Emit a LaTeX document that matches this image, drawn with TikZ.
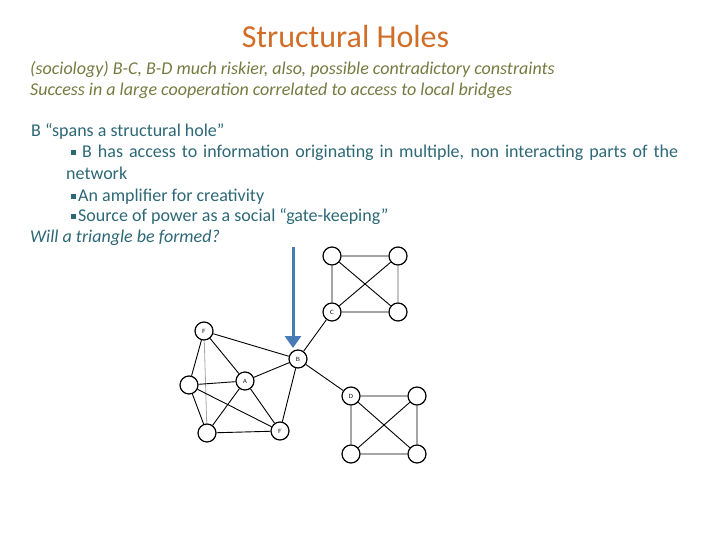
\documentclass[tikz,border=0pt]{standalone}
\usepackage{fontspec}
\setmainfont{Carlito}
\usepackage{tikz}
\usetikzlibrary{arrows.meta,positioning}
\definecolor{titleorange}{RGB}{208,110,40}
\definecolor{olivetext}{RGB}{118,122,64}
\definecolor{bodyteal}{RGB}{45,104,118}
\definecolor{arrowblue}{RGB}{72,122,182}
\newcommand{\sqbul}{\rule[3pt]{4.5pt}{4.5pt}}

\begin{document}
\begin{tikzpicture}[x=1pt,y=-1pt,
	txt/.style={anchor=base west, inner sep=0pt},
	vtx/.style={circle, draw=black, line width=1.2pt, fill=white, minimum size=18pt, inner sep=0pt, font=\sffamily\fontsize{6}{6}\selectfont},
	link/.style={black, line width=0.9pt}]
	\useasboundingbox (0,0) rectangle (720,540);
	% text
	\node[anchor=base, inner sep=0pt, titleorange, font=\fontsize{32}{36}\selectfont] (title) at (345.5,48) {Structural Holes};
	\node[txt, olivetext, font=\itshape\fontsize{18}{21}\selectfont] (soc) at (30,75) {(sociology) B-C, B-D much riskier, also, possible contradictory constraints};
	\node[txt, olivetext, font=\itshape\fontsize{18}{21}\selectfont] (succ) at (30,96) {Success in a large cooperation correlated to access to local bridges};
	\node[txt, bodyteal, font=\fontsize{18}{21}\selectfont] (spans) at (31,137) {B “spans a structural hole”};
	\node[txt, bodyteal, font=\fontsize{18}{21}\selectfont] (acc) at (71,158) {\sqbul\hspace{6.5pt}\makebox[596pt][s]{B has access to information originating in multiple, non interacting parts of the}};
	\node[txt, bodyteal, font=\fontsize{18}{21}\selectfont] (net) at (66,180) {network};
	\node[txt, bodyteal, font=\fontsize{18}{21}\selectfont] (amp) at (71,202) {\sqbul\hspace{2.5pt}An amplifier for creativity};
	\node[txt, bodyteal, font=\fontsize{18}{21}\selectfont] (pow) at (71,222) {\sqbul\hspace{2.5pt}Source of power as a social “gate-keeping”};
	\node[txt, bodyteal, font=\itshape\fontsize{18}{21}\selectfont] (will) at (30,242) {Will a triangle be formed?};
	% network
	\node[vtx] (ctl) at (332,256) {};
	\node[vtx] (ctr) at (398,256) {};
	\node[vtx] (c) at (332,312) {C};
	\node[vtx] (cbr) at (398,312) {};
	\node[vtx] (ftop) at (204,331) {F};
	\node[vtx] (b) at (298,359) {B};
	\node[vtx] (a) at (245,381) {A};
	\node[vtx] (lft) at (189,385) {};
	\node[vtx] (bl) at (207,433) {};
	\node[vtx] (fbot) at (280,431) {F};
	\node[vtx] (d) at (351,396) {D};
	\node[vtx] (dtr) at (417,396) {};
	\node[vtx] (dbl) at (351,454) {};
	\node[vtx] (dbr) at (417,454) {};
	\draw[link] (ctl) -- (ctr) (ctl) -- (c) (c) -- (cbr) (ctl) -- (cbr) (ctr) -- (c);
	\draw[gray!45, line width=2pt] (ctr) -- (cbr);
	\draw[link] (ftop) -- (b) (ftop) -- (a) (ftop) -- (lft);
	\draw[gray!70, line width=0.8pt] (ftop) -- (bl);
	\draw[link] (lft) -- (a) (lft) -- (fbot) (lft) -- (bl);
	\draw[link] (a) -- (b) (a) -- (fbot) (a) -- (bl);
	\draw[link] (bl) -- (fbot) (fbot) -- (b);
	\draw[link] (b) -- (c) (b) -- (d);
	\draw[link] (d) -- (dtr) (d) -- (dbl) (dtr) -- (dbr) (dbl) -- (dbr) (d) -- (dbr) (dtr) -- (dbl);
	% arrow
	\coordinate (arrtop) at (293,247);
	\coordinate (arrtip) at (293,348);
	\draw[arrowblue, line width=3pt, -{Triangle[width=16pt,length=12pt]}] (arrtop) -- (arrtip);
\end{tikzpicture}
\end{document}
